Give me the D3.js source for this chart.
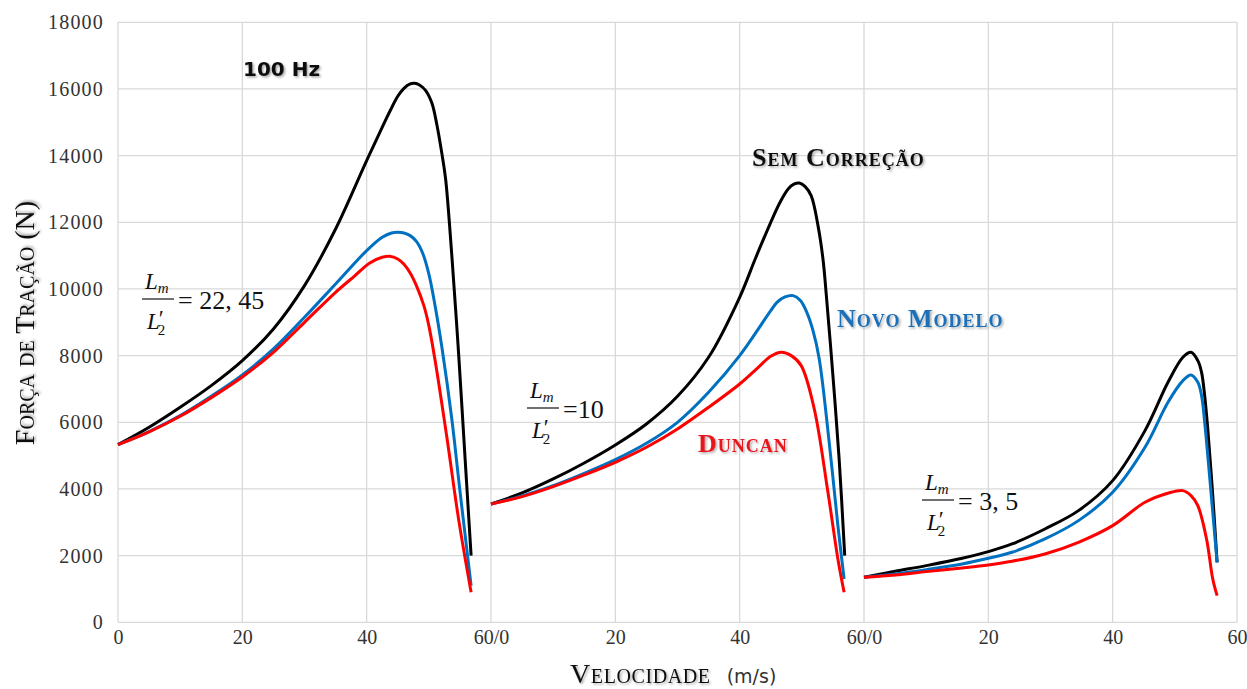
<!DOCTYPE html>
<html>
<head>
<meta charset="utf-8">
<script src="https://cdn.jsdelivr.net/npm/d3@7"></script>
<style>
  body { margin: 0; background: #fff; }
  svg { display: block; }
</style>
</head>
<body>
<div id="chart"></div>
<script>
// velocity (m/s) , traction force (N), one array per curve
// panel 1 : Lm/L2' = 22,45
var semCorrecao1 = [[0,5330],[5,5850],[10,6450],[15,7100],[20,7850],[25,8800],[30,10100],[35,11800],[40,13850],[43,15050],[44,15430],[45,15780],[46,16020],[47,16150],[47.7,16170],[48.5,16120],[49.5,15950],[50.5,15570],[51.3,14920],[52.1,14060],[52.7,13300],[53.7,11000],[54.8,8030],[55.8,5010],[56.8,2000]];
var novoModelo1  = [[0,5330],[5,5720],[10,6200],[15,6780],[20,7420],[25,8200],[30,9150],[35,10150],[40,11150],[42.5,11550],[44,11680],[45,11700],[46,11680],[47,11600],[48,11430],[49,11080],[50,10450],[51,9500],[52.1,8250],[53.7,6090],[55,3950],[56.8,1100]];
var duncan1      = [[0,5330],[5,5715],[10,6180],[15,6740],[20,7360],[25,8100],[30,9000],[35,9900],[38,10380],[40.5,10780],[42.5,10950],[43.7,10980],[45,10900],[46,10740],[47,10480],[48,10100],[49.2,9500],[50,8900],[51.1,7750],[52.9,5550],[54.8,3080],[56.8,900]];
// panel 2 : Lm/L2' = 10
var semCorrecao2 = [[0,3550],[5,3880],[10,4300],[15,4780],[20,5320],[25,5950],[30,6780],[35,7950],[40,9750],[42.5,10900],[45,12000],[46.5,12600],[47.8,13000],[48.8,13150],[49.6,13180],[50.5,13080],[51.5,12800],[52.6,11900],[53.4,10900],[53.9,9900],[55,7400],[56,4900],[56.9,2000]];
var novoModelo2  = [[0,3550],[5,3790],[10,4100],[15,4470],[20,4880],[25,5370],[30,6000],[35,6900],[40,8000],[45,9350],[46,9600],[47.3,9760],[48.6,9800],[49.8,9650],[50.8,9300],[51.8,8750],[52.8,7900],[54.4,5400],[55.8,2900],[56.8,1300]];
var duncan2      = [[0,3550],[5,3770],[10,4070],[15,4420],[20,4800],[25,5250],[30,5800],[35,6450],[40,7150],[43,7650],[45,7980],[46.7,8100],[48.3,8000],[49.9,7700],[52,6400],[54.2,3900],[55.8,1900],[56.8,900]];
// panel 3 : Lm/L2' = 3,5
var semCorrecao3 = [[0,1350],[5,1530],[10,1700],[15.8,1920],[20,2120],[23.8,2350],[29.1,2800],[34.5,3350],[40,4250],[45.2,5750],[48.9,7200],[51.3,7950],[52.6,8100],[53.7,7850],[54.3,7500],[54.8,6800],[55.3,5800],[56.1,3800],[56.8,1800]];
var novoModelo3  = [[0,1350],[5,1450],[10,1580],[15.8,1750],[20,1920],[23.8,2100],[29.1,2500],[34.5,3050],[40,3900],[45.2,5250],[48.9,6600],[51.3,7250],[52.6,7420],[53.7,7200],[54.3,6800],[54.8,6000],[55.3,5000],[56.1,3300],[56.8,1800]];
var duncan3      = [[0,1350],[5,1420],[10,1520],[15.8,1630],[20,1720],[23.8,1830],[29.1,2050],[34.5,2400],[40,2900],[45.2,3600],[49,3880],[51.3,3950],[52.6,3800],[53.7,3500],[55.1,2500],[56.1,1300],[56.8,800]];

var panelStart = [0, 60, 120];
var xTicks = [0, 20, 40, 60, 80, 100, 120, 140, 160, 180];
var xTickLabels = ["0", "20", "40", "60/0", "20", "40", "60/0", "20", "40", "60"];
var yTicks = [0, 2000, 4000, 6000, 8000, 10000, 12000, 14000, 16000, 18000];
var ratios = ["= 22, 45", "=10", "= 3, 5"];

var series = [
  {color: "#000000", panels: [semCorrecao1, semCorrecao2, semCorrecao3]},
  {color: "#0070c0", panels: [novoModelo1, novoModelo2, novoModelo3]},
  {color: "#ff0000", panels: [duncan1, duncan2, duncan3]}
];

var width = 1247, height = 689;
var serif = "'Liberation Serif', 'DejaVu Serif', serif";

var svg = d3.select("#chart")
    .append("svg")
    .attr("width", width)
    .attr("height", height);

var defs = svg.append("defs");
var shadow = defs.append("filter").attr("id", "shadow")
    .attr("x", "-10%").attr("y", "-30%").attr("width", "130%").attr("height", "180%");
shadow.append("feDropShadow")
    .attr("dx", 1.5).attr("dy", 1.5).attr("stdDeviation", 1.2)
    .attr("flood-color", "#000").attr("flood-opacity", 0.35);

var x = d3.scaleLinear().domain([0, 180]).range([118, 1237]);
var y = d3.scaleLinear().domain([0, 18000]).range([622.3, 22.3]);

// grid
svg.append("g")
    .selectAll("line")
    .data(yTicks)
    .join("line")
      .attr("x1", x(0)).attr("x2", x(180))
      .attr("y1", d => y(d)).attr("y2", d => y(d))
      .attr("stroke", "#d9d9d9")
      .attr("stroke-width", 1.3);

svg.append("g")
    .selectAll("line")
    .data(xTicks)
    .join("line")
      .attr("x1", d => x(d)).attr("x2", d => x(d))
      .attr("y1", y(0)).attr("y2", y(18000))
      .attr("stroke", "#d9d9d9")
      .attr("stroke-width", 1.3);

// axes (labels only, like the spreadsheet chart)
var yAxis = svg.append("g")
    .attr("transform", "translate(" + x(0) + ",0)")
    .call(d3.axisLeft(y).tickValues(yTicks).tickSize(0).tickPadding(14).tickFormat(d3.format("d")));
yAxis.select(".domain").remove();
yAxis.selectAll("text")
    .attr("font-family", serif)
    .attr("font-size", 20)
    .attr("letter-spacing", 1.2)
    .attr("fill", "#333");

var xAxis = svg.append("g")
    .attr("transform", "translate(0," + y(0) + ")")
    .call(d3.axisBottom(x).tickValues(xTicks).tickSize(0).tickPadding(8)
      .tickFormat((d, i) => xTickLabels[i]));
xAxis.select(".domain").remove();
xAxis.selectAll("text")
    .attr("font-family", serif)
    .attr("font-size", 20)
    .attr("fill", "#333");

// curves
var line = d3.line()
    .x(d => x(d[0] + d.offset))
    .y(d => y(d[1]))
    .curve(d3.curveCatmullRom.alpha(0.5));

series.forEach(function(s) {
  s.panels.forEach(function(pts, p) {
    var shifted = pts.map(function(d) { var q = [d[0], d[1]]; q.offset = panelStart[p]; return q; });
    svg.append("path")
        .datum(shifted)
        .attr("d", line)
        .attr("fill", "none")
        .attr("stroke", s.color)
        .attr("stroke-width", 3);
  });
});

// axis titles
svg.append("text")
    .attr("transform", "translate(34," + 323 + ") rotate(-90)")
    .attr("text-anchor", "middle")
    .attr("font-family", serif)
    .attr("font-size", 28)
    .style("font-variant", "small-caps")
    .attr("fill", "#111")
    .attr("filter", "url(#shadow)")
    .text("Força de Tração (N)");

var xt = svg.append("text")
    .attr("x", 570).attr("y", 683)
    .attr("font-family", serif)
    .attr("font-size", 28)
    .attr("fill", "#111");
xt.append("tspan")
    .style("font-variant", "small-caps")
    .attr("letter-spacing", 0.6)
    .attr("filter", "url(#shadow)")
    .text("Velocidade");
xt.append("tspan")
    .attr("dx", 16)
    .attr("font-family", "'DejaVu Sans', sans-serif")
    .attr("font-size", 19)
    .attr("fill", "#333")
    .text("(m/s)");

// annotations
svg.append("text")
    .attr("x", 243).attr("y", 76)
    .attr("font-family", "'DejaVu Sans', sans-serif")
    .attr("font-size", 20)
    .attr("font-weight", "bold")
    .attr("fill", "#111")
    .attr("filter", "url(#shadow)")
    .text("100 Hz");

var labels = [
  {text: "Sem Correção", x: 752, y: 166, color: "#111"},
  {text: "Novo Modelo", x: 837, y: 327, color: "#1f6fb8"},
  {text: "Duncan", x: 698, y: 452, color: "#e8141b"}
];
svg.append("g")
    .selectAll("text")
    .data(labels)
    .join("text")
      .attr("x", d => d.x).attr("y", d => d.y)
      .attr("font-family", serif)
      .attr("font-size", 26)
      .attr("font-weight", "bold")
      .style("font-variant", "small-caps")
      .attr("letter-spacing", 1)
      .attr("fill", d => d.color)
      .attr("filter", "url(#shadow)")
      .text(d => d.text);

// Lm / L2' ratio labels
var ratioPos = [[142, 299], [527, 408], [922, 500]];
ratioPos.forEach(function(pos, i) {
  var g = svg.append("g")
      .attr("transform", "translate(" + pos[0] + "," + pos[1] + ")")
      .attr("font-family", serif)
      .attr("fill", "#111");
  var num = g.append("text").attr("x", 3).attr("y", -10).attr("font-size", 23).attr("font-style", "italic");
  num.append("tspan").text("L");
  num.append("tspan").attr("font-size", 15).attr("dy", 4).text("m");
  g.append("line")
      .attr("x1", 0).attr("x2", 32).attr("y1", 0).attr("y2", 0)
      .attr("stroke", "#111").attr("stroke-width", 1.2);
  var den = g.append("text").attr("x", 5).attr("y", 30).attr("font-size", 23).attr("font-style", "italic");
  den.append("tspan").text("L");
  den.append("tspan").attr("font-style", "normal").attr("dx", -1).attr("dy", -3).text("′");
  den.append("tspan").attr("font-size", 15).attr("font-style", "normal").attr("dx", -6).attr("dy", 9).text("2");
  g.append("text")
      .attr("x", 36).attr("y", 10)
      .attr("font-size", 26)
      .text(ratios[i]);
});
</script>
</body>
</html>
